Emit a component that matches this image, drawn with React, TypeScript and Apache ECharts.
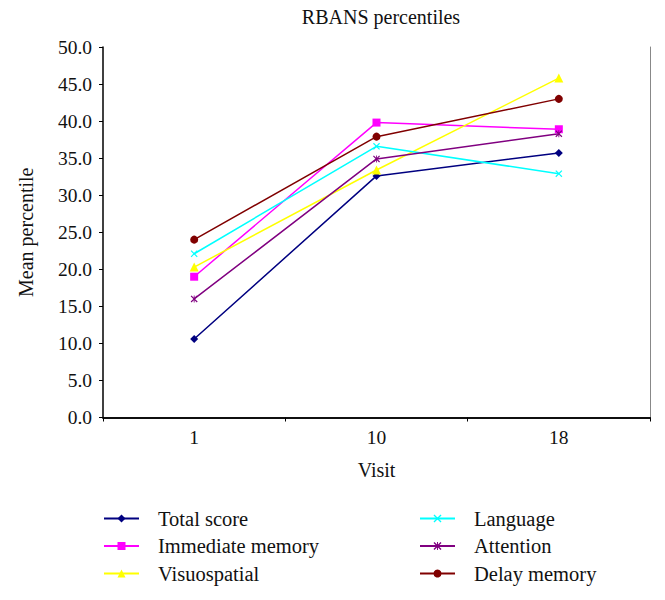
import React, { useEffect, useRef } from "react";
import * as echarts from "echarts";

const visits = ["1", "10", "18"];
const totalScore = [10.6, 32.6, 35.7];
const immediateMemory = [19.0, 39.8, 38.9];
const visuospatial = [20.3, 33.4, 45.8];
const language = [22.1, 36.6, 32.9];
const attention = [16.0, 34.9, 38.3];
const delayMemory = [24.0, 37.9, 43.0];

const FONT = "'Liberation Serif', 'Times New Roman', serif";

const X_PATH =
  "path://M0,1.2 L1.2,0 L5,3.8 L8.8,0 L10,1.2 L6.2,5 L10,8.8 L8.8,10 L5,6.2 L1.2,10 L0,8.8 L3.8,5 Z";
const STAR_PATH =
  "path://M0,1.2 L1.2,0 L4.4,3.2 L4.4,0 L5.6,0 L5.6,3.2 L8.8,0 L10,1.2 L6.2,5 L10,8.8 L8.8,10 L5.6,6.8 L5.6,10 L4.4,10 L4.4,6.8 L1.2,10 L0,8.8 L3.8,5 Z";

export default function App() {
  const ref = useRef<HTMLDivElement>(null);
  useEffect(() => {
    if (!ref.current) return;
    const chart = echarts.init(ref.current, null, { renderer: "svg" });
    const mk = (name: string, data: number[], color: string, symbol: string, size: number) => ({
      name,
      type: "line",
      data,
      symbol,
      symbolSize: size,
      showAllSymbol: true,
      lineStyle: { color, width: 1.5 },
      itemStyle: { color, borderColor: color, borderWidth: 0 },
      emphasis: { disabled: true },
    });
    const legendCommon = {
      orient: "vertical" as const,
      top: 508,
      padding: 0,
      itemWidth: 35,
      itemHeight: 10,
      itemGap: 6.5,
      textStyle: {
        fontFamily: FONT,
        fontSize: 20.5,
        color: "#111",
        lineHeight: 20,
        padding: [0, 0, 0, 14],
      },
    };
    chart.setOption({
      animation: false,
      backgroundColor: "#fff",
      title: {
        text: "RBANS percentiles",
        left: 376,
        textAlign: "center",
        top: 2,
        textStyle: { fontFamily: FONT, fontSize: 20, fontWeight: "normal", color: "#111" },
      },
      grid: { left: 103, right: 15, top: 47, bottom: 182.5 },
      legend: [
        {
          ...legendCommon,
          left: 103,
          data: ["Total score", "Immediate memory", "Visuospatial"],
        },
        {
          ...legendCommon,
          left: 419,
          data: ["Language", "Attention", "Delay memory"],
        },
      ],
      xAxis: [
        {
          type: "category",
          data: visits,
          boundaryGap: true,
          name: "Visit",
          nameLocation: "middle",
          nameGap: 42,
          nameTextStyle: { fontFamily: FONT, fontSize: 20, color: "#111" },
          axisLine: { lineStyle: { color: "#000", width: 1.5 } },
          axisTick: { show: true, length: 4, lineStyle: { color: "#000" } },
          axisLabel: { fontFamily: FONT, fontSize: 19.5, color: "#111", margin: 10 },
          splitLine: { show: false },
        },
        {
          type: "category",
          data: visits,
          position: "top",
          axisLine: { lineStyle: { color: "#000", width: 1.5 } },
          axisTick: { show: false },
          axisLabel: { show: false },
          splitLine: { show: false },
        },
      ],
      yAxis: [
        {
          type: "value",
          min: 0,
          max: 50,
          interval: 5,
          name: "Mean percentile",
          nameLocation: "middle",
          nameGap: 67,
          nameTextStyle: { fontFamily: FONT, fontSize: 20, color: "#111" },
          axisLine: { show: true, lineStyle: { color: "#000", width: 1.5 } },
          axisTick: { show: true, length: 4, lineStyle: { color: "#000" } },
          axisLabel: {
            fontFamily: FONT,
            fontSize: 19.5,
            color: "#111",
            margin: 11,
            formatter: (v: number) => v.toFixed(1),
          },
          splitLine: { show: false },
        },
        {
          type: "value",
          min: 0,
          max: 50,
          interval: 5,
          position: "right",
          axisLine: { show: true, lineStyle: { color: "#888", width: 1 } },
          axisTick: { show: false },
          axisLabel: { show: false },
          splitLine: { show: false },
        },
      ],
      series: [
        mk("Total score", totalScore, "#000080", "diamond", 8),
        mk("Immediate memory", immediateMemory, "#FF00FF", "rect", 8),
        mk("Visuospatial", visuospatial, "#FFFF00", "triangle", 9),
        mk("Language", language, "#00FFFF", X_PATH, 7),
        mk("Attention", attention, "#800080", STAR_PATH, 7),
        mk("Delay memory", delayMemory, "#800000", "circle", 8),
      ],
    });
    return () => chart.dispose();
  }, []);
  return (
    <div
      ref={ref}
      style={{ position: "absolute", left: 0, top: 0, width: 665, height: 600 }}
    />
  );
}
